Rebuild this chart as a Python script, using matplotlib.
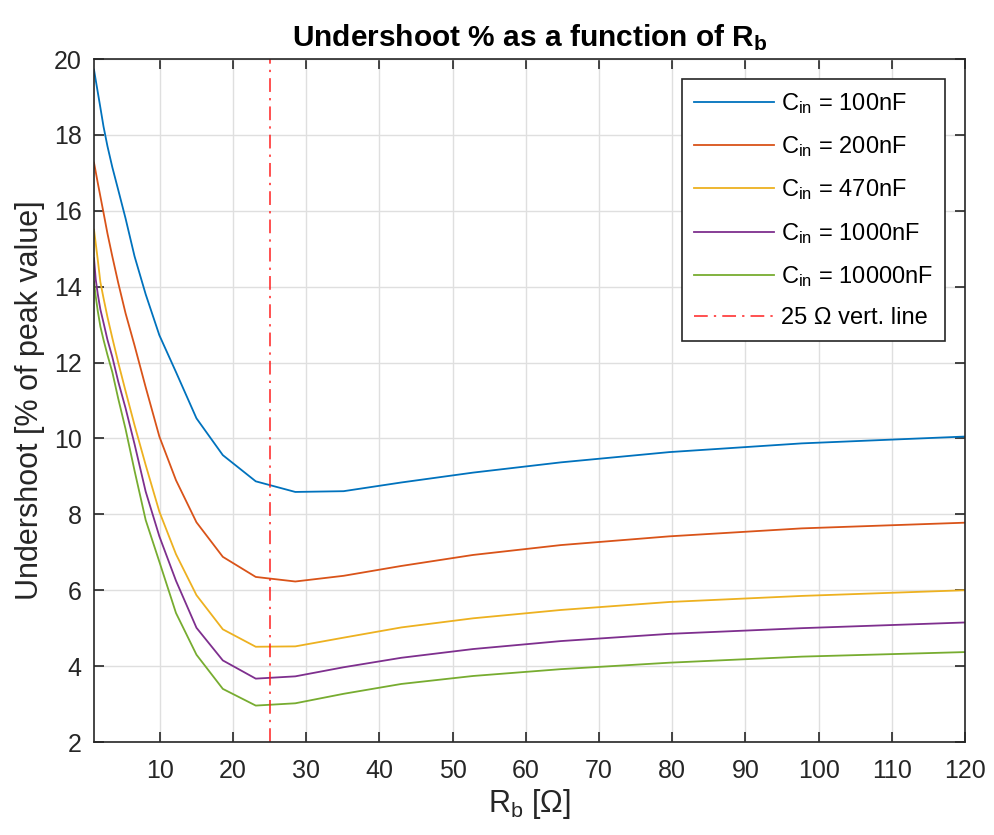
import matplotlib
matplotlib.use("Agg")
import matplotlib.pyplot as plt

plt.rcParams['font.family'] = ['Liberation Sans', 'DejaVu Sans']
plt.rcParams['mathtext.fontset'] = 'custom'
plt.rcParams['mathtext.rm'] = 'Liberation Sans'
plt.rcParams['mathtext.it'] = 'Liberation Sans'
plt.rcParams['mathtext.bf'] = 'Liberation Sans:bold'

# Data
rb = [1.0, 1.23, 1.52, 1.87, 2.3, 2.84, 3.5, 4.31, 5.31, 6.54, 8.06, 9.93,
      12.2, 15.0, 18.6, 23.1, 28.5, 35.1, 43.0, 52.8, 64.8, 79.6, 97.7, 120.0]

us_100nF = [19.72, 19.45, 19.12, 18.72, 18.22, 17.7, 17.15, 16.55, 15.8, 14.8, 13.8, 12.72,
            11.75, 10.53, 9.56, 8.87, 8.59, 8.61, 8.84, 9.10, 9.37, 9.64, 9.87, 10.05]
us_200nF = [17.27, 17.03, 16.73, 16.38, 15.95, 15.4, 14.8, 14.1, 13.3, 12.45, 11.35, 10.05,
            8.9, 7.79, 6.88, 6.35, 6.23, 6.38, 6.64, 6.93, 7.19, 7.42, 7.63, 7.78]
us_470nF = [15.5, 15.15, 14.7, 14.12, 13.7, 13.2, 12.65, 12.0, 11.25, 10.35, 9.3, 8.07,
            6.95, 5.87, 4.97, 4.51, 4.52, 4.75, 5.02, 5.26, 5.48, 5.69, 5.85, 6.0]
us_1000nF = [14.75, 14.2, 13.8, 13.4, 13.05, 12.6, 12.15, 11.5, 10.8, 9.85, 8.6, 7.42,
             6.25, 5.01, 4.15, 3.67, 3.73, 3.97, 4.22, 4.45, 4.66, 4.85, 5.0, 5.15]
us_10000nF = [14.13, 13.75, 13.35, 12.95, 12.6, 12.2, 11.75, 11.05, 10.25, 9.15, 7.85, 6.75,
              5.4, 4.30, 3.40, 2.96, 3.02, 3.27, 3.53, 3.74, 3.92, 4.09, 4.25, 4.37]

series = [us_100nF, us_200nF, us_470nF, us_1000nF, us_10000nF]
labels = [r'$\mathregular{C_{in}}$ = 100nF', r'$\mathregular{C_{in}}$ = 200nF',
          r'$\mathregular{C_{in}}$ = 470nF', r'$\mathregular{C_{in}}$ = 1000nF',
          r'$\mathregular{C_{in}}$ = 10000nF']
colors = ['#0072BD', '#D95319', '#EDB120', '#7E2F8E', '#77AC30']
vline_x = 25
xticks = list(range(10, 121, 10))
yticks = list(range(2, 21, 2))

fig = plt.figure(figsize=(9.94, 8.35), dpi=100)
ax = fig.add_axes([94/994, (835-742)/835, (965-94)/994, (742-59)/835])

for y, lab, c in zip(series, labels, colors):
    ax.plot(rb, y, color=c, lw=1.3, label=lab)
ax.axvline(vline_x, color='#FF2020', lw=1.1, dashes=(9, 4, 1.5, 4),
           label='25 Ω vert. line')

ax.set_xlim(1, 120)
ax.set_ylim(2, 20)
ax.set_xticks(xticks)
ax.set_yticks(yticks)
ax.grid(True, color='#DFDFDF', lw=1.0)
ax.set_axisbelow(True)
ax.tick_params(direction='in', length=7, width=1.2, top=True, right=True,
               labelsize=18, colors='#262626')
ax.tick_params(axis='x', pad=12)
ax.tick_params(axis='y', pad=9)
for s in ax.spines.values():
    s.set_color('#262626')
    s.set_linewidth(1.2)

ax.set_title(r'Undershoot % as a function of R$\mathregular{_b}$', fontsize=21.5,
             fontweight='bold', pad=9)
ax.set_xlabel(r'R$\mathregular{_b}$ [Ω]', fontsize=22, color='#262626', labelpad=3)
ax.set_ylabel('Undershoot [% of peak value]', fontsize=22, color='#262626', labelpad=6)

leg = ax.legend(loc='upper right', fontsize=17, frameon=True, fancybox=False,
                edgecolor='#262626', framealpha=1, handlelength=3.4,
                borderaxespad=0.85, labelspacing=0.78, handletextpad=0.3,
                borderpad=0.5)
leg.get_frame().set_linewidth(1.2)

fig.savefig('out.png', dpi=100)
